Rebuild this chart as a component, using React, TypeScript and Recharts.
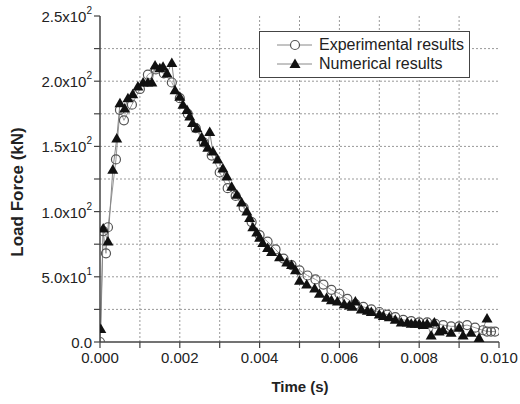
import { LineChart, Line, XAxis, YAxis, ReferenceLine } from "recharts";

// experimental results (hollow circles)
const expTime = [
  0, 0.00008, 0.00015, 0.0002, 0.0004, 0.0005, 0.0006, 0.0008, 0.001, 0.0012,
  0.0014, 0.0016, 0.0018, 0.002, 0.0022, 0.0024, 0.0026, 0.0028, 0.003, 0.0032,
  0.0034, 0.0036, 0.0038, 0.004, 0.0042, 0.0044, 0.0046, 0.0048, 0.005, 0.0052,
  0.0054, 0.0056, 0.0058, 0.006, 0.0062, 0.0064, 0.0066, 0.0068, 0.007, 0.0072,
  0.0074, 0.0076, 0.0078, 0.008, 0.0082, 0.0084, 0.0086, 0.0088, 0.009, 0.0092,
  0.0094, 0.0096, 0.0097, 0.0098, 0.0099,
];
const expForce = [
  0, 85, 68, 88, 140, 178, 170, 182, 194, 205,
  209, 206, 199, 187, 175, 164, 153, 143, 130, 118,
  112, 103, 92, 82, 77, 71, 64, 59, 55, 51,
  48, 44, 40, 37, 33, 29, 27, 25, 23, 21,
  19, 17, 16, 15, 15, 14, 13, 12, 12, 13,
  11, 9, 8, 8, 8,
];

// numerical results (filled triangles)
const numTime = [
  0.00002, 0.00008, 0.0002, 0.00032, 0.00042, 0.0005, 0.00062, 0.0007, 0.00082, 0.00095,
  0.00108, 0.0012, 0.0013, 0.00138, 0.0015, 0.00158, 0.00168, 0.0018, 0.00188, 0.002,
  0.00208, 0.00218, 0.00225, 0.00232, 0.00243, 0.00255, 0.00262, 0.0027, 0.00275, 0.00283,
  0.00295, 0.00308, 0.00318, 0.0033, 0.00343, 0.00355, 0.00368, 0.00375, 0.00383, 0.00393,
  0.004, 0.00408, 0.0042, 0.0043, 0.0045, 0.00468, 0.0048, 0.0049, 0.005, 0.00518,
  0.00538, 0.0055, 0.00568, 0.0058, 0.00595, 0.00612, 0.00625, 0.00632, 0.0064, 0.00655,
  0.0067, 0.0068, 0.007, 0.0071, 0.00725, 0.0074, 0.00755, 0.0077, 0.0078, 0.0079,
  0.008, 0.0081, 0.0082, 0.0083, 0.00838, 0.0085, 0.0086, 0.0088, 0.009, 0.0091,
  0.0093, 0.0095, 0.0097,
];
const numForce = [
  10, 87, 77, 132, 156, 183, 179, 187, 190, 196,
  199, 199, 199, 212, 210, 211, 206, 214, 193, 188,
  182, 178, 173, 168, 164, 157, 153, 149, 161, 146,
  140, 133, 127, 119, 113, 107, 100, 95, 88, 84,
  80, 76, 72, 69, 65, 61, 59, 55, 47, 44,
  41, 37, 34, 32, 31, 29, 28, 27, 31, 25,
  24, 23, 21, 20, 19, 17, 15, 15, 14, 14,
  14, 13, 14, 5, 15, 8, 9, 7, 11, 5,
  7, 3, 18,
];

const xTicks = [0, 0.001, 0.002, 0.003, 0.004, 0.005, 0.006, 0.007, 0.008, 0.009, 0.01];
const yTicks = [0, 25, 50, 75, 100, 125, 150, 175, 200, 225, 250];
const gridX = [0.001, 0.002, 0.003, 0.004, 0.005, 0.006, 0.007, 0.008, 0.009];
const gridY = [25, 50, 75, 100, 125, 150, 175, 200, 225];

const expData = expTime.map((t, i) => ({ t, f: expForce[i] }));
const numData = numTime.map((t, i) => ({ t, f: numForce[i] }));

const FONT = '"Liberation Sans", Arial, sans-serif';

const fmtX = (v: number) => (Math.round(v * 1000) % 2 === 0 ? v.toFixed(3) : "");

function YTick(props: any) {
  const { x, y, payload } = props;
  const v = payload.value;
  if (v % 50 !== 0) return null;
  if (v === 0) {
    return (
      <text x={x} y={y} textAnchor="end" dominantBaseline="central" fontSize={15} fill="#222" fontFamily={FONT}>
        0.0
      </text>
    );
  }
  const exp = Math.floor(Math.log10(v));
  const mant = (v / Math.pow(10, exp)).toFixed(1);
  return (
    <text x={x} y={y} textAnchor="end" dominantBaseline="central" fontSize={15} fill="#222" fontFamily={FONT}>
      <tspan>{mant}x10</tspan>
      <tspan dy={-6} fontSize={10}>{exp}</tspan>
    </text>
  );
}

const expDot = (p: any) => (
  <circle key={`e${p.index}`} cx={p.cx} cy={p.cy} r={4.5} fill="none" stroke="#555" strokeWidth={1.2} />
);

const numDot = (p: any) => (
  <path
    key={`n${p.index}`}
    d={`M${p.cx},${p.cy - 5.5} L${p.cx + 5.5},${p.cy + 4} L${p.cx - 5.5},${p.cy + 4} Z`}
    fill="#111"
  />
);

function LegendBox() {
  const row = (label: string, marker: any) => (
    <div style={{ display: "flex", alignItems: "center", height: 19, whiteSpace: "nowrap" }}>
      <svg width={40} height={14} style={{ marginLeft: 14, flexShrink: 0 }}>
        <line x1={3} y1={7} x2={38} y2={7} stroke="#888" strokeWidth={1} />
        {marker}
      </svg>
      <span style={{ marginLeft: 5 }}>{label}</span>
    </div>
  );
  return (
    <div
      style={{
        position: "absolute",
        left: 259,
        top: 31,
        width: 209,
        height: 42,
        border: "1px solid #444",
        background: "#fff",
        fontFamily: FONT,
        fontSize: 16,
        color: "#222",
        paddingTop: 3,
        boxSizing: "content-box",
      }}
    >
      {row("Experimental results", <circle cx={21} cy={7} r={4.5} fill="#fff" stroke="#555" strokeWidth={1.2} />)}
      {row("Numerical results", <path d="M21,1.5 L26.5,11 L15.5,11 Z" fill="#111" />)}
    </div>
  );
}

export default function App() {
  return (
    <div style={{ position: "absolute", left: 0, top: 0, width: 520, height: 404, background: "#fff" }}>
      <LineChart width={520} height={404} margin={{ top: 16, right: 21, bottom: 32, left: 40 }}>
        <XAxis
          type="number"
          dataKey="t"
          domain={[0, 0.01]}
          ticks={xTicks}
          tickFormatter={fmtX}
          tickSize={6}
          tickMargin={4}
          height={30}
          axisLine={{ stroke: "#444", strokeWidth: 1.5 }}
          tickLine={{ stroke: "#444", strokeWidth: 1.2 }}
          tick={{ fill: "#222", fontSize: 15, fontFamily: FONT }}
          allowDataOverflow
        />
        <YAxis
          type="number"
          domain={[0, 250]}
          ticks={yTicks}
          tick={<YTick />}
          tickSize={6}
          tickMargin={2}
          width={60}
          axisLine={{ stroke: "#444", strokeWidth: 1.5 }}
          tickLine={{ stroke: "#444", strokeWidth: 1.2 }}
          allowDataOverflow
        />
        {gridX.map((v) => (
          <ReferenceLine key={`gx${v}`} x={v} stroke="#999" strokeDasharray="2 2" />
        ))}
        {gridY.map((v) => (
          <ReferenceLine key={`gy${v}`} y={v} stroke="#999" strokeDasharray="2 2" />
        ))}
        <Line
          data={expData}
          dataKey="f"
          type="linear"
          stroke="#999"
          strokeWidth={1}
          dot={expDot}
          activeDot={false}
          isAnimationActive={false}
        />
        <Line
          data={numData}
          dataKey="f"
          type="linear"
          stroke="#888"
          strokeWidth={1}
          dot={numDot}
          activeDot={false}
          isAnimationActive={false}
        />
      </LineChart>
      <LegendBox />
      <div
        style={{
          position: "absolute",
          left: 18,
          top: 192,
          transform: "translate(-50%, -50%) rotate(-90deg)",
          whiteSpace: "nowrap",
          fontFamily: FONT,
          fontWeight: "bold",
          fontSize: 17,
          color: "#222",
        }}
      >
        Load Force (kN)
      </div>
      <div
        style={{
          position: "absolute",
          left: 300,
          top: 386,
          transform: "translate(-50%, -50%)",
          whiteSpace: "nowrap",
          fontFamily: FONT,
          fontWeight: "bold",
          fontSize: 15,
          color: "#222",
        }}
      >
        Time (s)
      </div>
    </div>
  );
}
